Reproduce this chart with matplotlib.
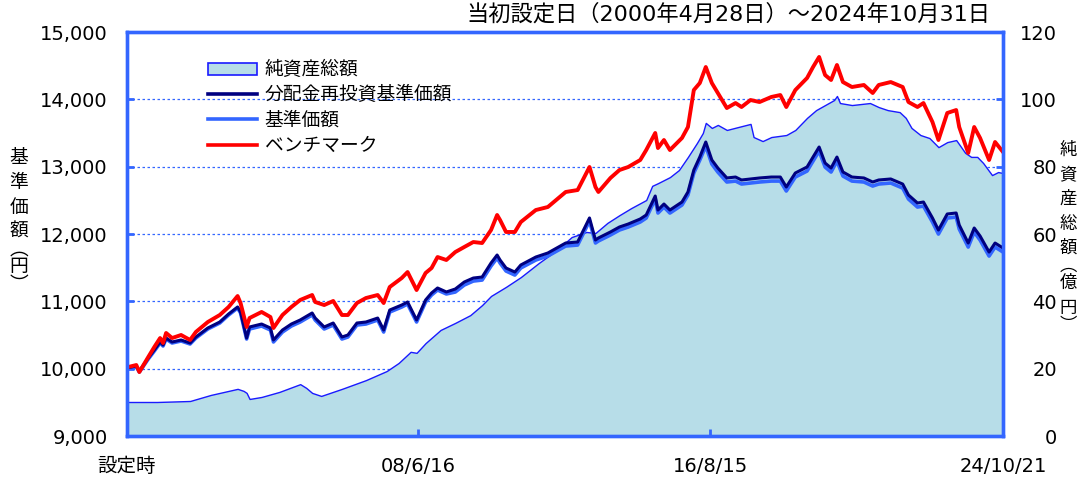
import matplotlib
matplotlib.use("Agg")
import matplotlib.pyplot as plt
import matplotlib.ticker as mticker
from matplotlib.patches import Patch
from matplotlib.lines import Line2D
import pandas as pd

plt.rcParams['font.family'] = ['DejaVu Sans', 'Noto Sans CJK JP']

# --- price series (yen) ---
price_dates = [
    '2000-04-28', '2000-08-01', '2000-09-01', '2000-12-01', '2001-02-01', '2001-04-01',
    '2001-05-01', '2001-06-01', '2001-08-01', '2001-11-01', '2002-02-01', '2002-04-01',
    '2002-08-01', '2002-12-01', '2003-03-01', '2003-06-01', '2003-07-01', '2003-09-01',
    '2003-10-01', '2004-02-01', '2004-05-01', '2004-06-01', '2004-09-01', '2004-12-01',
    '2005-03-01', '2005-07-01', '2005-08-01', '2005-11-01', '2006-02-01', '2006-05-01',
    '2006-07-01', '2006-10-01', '2007-01-01', '2007-05-01', '2007-07-01', '2007-09-01',
    '2008-01-01', '2008-03-01', '2008-06-01', '2008-09-01', '2008-11-01', '2009-01-01',
    '2009-04-01', '2009-07-01', '2009-10-01', '2010-01-01', '2010-04-01', '2010-07-01',
    '2010-09-01', '2010-10-01', '2010-12-01', '2011-03-01', '2011-05-01', '2011-10-01',
    '2012-02-01', '2012-08-01', '2012-12-01', '2013-04-01', '2013-06-01', '2013-07-01',
    '2013-11-01', '2014-02-01', '2014-05-01', '2014-09-01', '2014-11-01', '2015-02-01',
    '2015-03-01', '2015-05-01', '2015-07-01', '2015-11-01', '2016-01-01', '2016-03-01',
    '2016-05-01', '2016-07-01', '2016-09-01', '2016-11-01', '2017-02-01', '2017-05-01',
    '2017-07-01', '2017-10-01', '2018-01-01', '2018-05-01', '2018-08-01', '2018-10-01',
    '2019-01-01', '2019-05-01', '2019-07-01', '2019-09-01', '2019-11-01', '2020-01-01',
    '2020-03-01', '2020-05-01', '2020-08-01', '2020-12-01', '2021-03-01', '2021-05-01',
    '2021-09-01', '2022-01-01', '2022-03-01', '2022-06-01', '2022-08-01', '2022-11-01',
    '2023-01-01', '2023-04-01', '2023-07-01', '2023-08-01', '2023-11-01', '2024-01-01',
    '2024-03-01', '2024-06-01', '2024-08-01', '2024-10-21',
]

benchmark = [
    10020, 10054, 9950, 10173, 10322, 10455, 10381, 10530, 10455, 10500, 10426, 10545,
    10693, 10797, 10916, 11079, 10975, 10619, 10752, 10842, 10767, 10604, 10797, 10916,
    11020, 11094, 10990, 10945, 11005, 10797, 10797, 10975, 11049, 11094, 10975, 11213,
    11346, 11435, 11168, 11421, 11495, 11658, 11614, 11732, 11807, 11881, 11866, 12059,
    12282, 12208, 12030, 12030, 12178, 12356, 12401, 12624, 12653, 12995, 12698, 12624,
    12832, 12950, 12995, 13099, 13247, 13500, 13277, 13396, 13247, 13426, 13589, 14138,
    14242, 14480, 14242, 14094, 13871, 13945, 13886, 13990, 13960, 14035, 14064, 13886,
    14138, 14317, 14480, 14629, 14361, 14287, 14510, 14257, 14183, 14213, 14094, 14213,
    14257, 14183, 13960, 13886, 13945, 13663, 13396, 13797, 13841, 13589, 13203, 13589,
    13426, 13099, 13366, 13218,
]

nav_reinvested = [
    10010, 10040, 9965, 10158, 10277, 10396, 10351, 10455, 10396, 10426, 10381, 10470,
    10604, 10693, 10812, 10916, 10842, 10455, 10619, 10663, 10604, 10426, 10574, 10663,
    10723, 10827, 10752, 10619, 10678, 10470, 10500, 10678, 10693, 10752, 10574, 10871,
    10945, 10990, 10723, 11020, 11124, 11198, 11139, 11183, 11287, 11346, 11361, 11569,
    11688, 11614, 11495, 11435, 11540, 11658, 11718, 11866, 11881, 12238, 11911, 11941,
    12030, 12104, 12148, 12223, 12282, 12564, 12356, 12445, 12356, 12475, 12624, 12950,
    13143, 13366, 13099, 12980, 12832, 12846, 12802, 12817, 12832, 12846, 12846, 12698,
    12906, 12995, 13143, 13292, 13054, 12980, 13143, 12921, 12846, 12832, 12772, 12802,
    12817, 12742, 12579, 12460, 12475, 12238, 12059, 12297, 12312, 12134, 11866, 12089,
    11970, 11732, 11866, 11792,
]

nav = [
    10000, 10025, 9950, 10143, 10262, 10381, 10336, 10440, 10381, 10411, 10366, 10455,
    10589, 10678, 10797, 10901, 10827, 10440, 10589, 10633, 10574, 10396, 10544, 10633,
    10693, 10797, 10722, 10589, 10648, 10440, 10470, 10648, 10663, 10722, 10544, 10841,
    10915, 10960, 10693, 10990, 11094, 11168, 11109, 11138, 11242, 11301, 11316, 11524,
    11643, 11569, 11450, 11390, 11495, 11613, 11673, 11821, 11836, 12193, 11866, 11896,
    11985, 12059, 12103, 12178, 12237, 12519, 12311, 12400, 12311, 12430, 12579, 12905,
    13098, 13306, 13039, 12920, 12772, 12786, 12742, 12757, 12772, 12786, 12786, 12638,
    12846, 12935, 13083, 13232, 12994, 12920, 13083, 12861, 12786, 12772, 12712, 12742,
    12757, 12682, 12519, 12400, 12415, 12178, 11999, 12237, 12252, 12074, 11806, 12029,
    11910, 11672, 11806, 11732,
]

# --- net assets (100 million yen) ---
asset_dates = [
    '2000-04-28', '2001-03-01', '2002-02-01', '2002-09-01', '2003-06-01', '2003-08-01',
    '2003-09-01', '2003-10-01', '2004-02-01', '2004-08-01', '2005-03-01', '2005-05-01',
    '2005-07-01', '2005-10-01', '2006-05-01', '2007-01-01', '2007-08-01', '2007-12-01',
    '2008-04-01', '2008-06-01', '2008-09-01', '2009-02-01', '2009-07-01', '2009-12-01',
    '2010-04-01', '2010-07-01', '2010-12-01', '2011-05-01', '2011-11-01', '2012-05-01',
    '2012-10-01', '2013-03-01', '2013-06-01', '2013-10-01', '2014-02-01', '2014-06-01',
    '2014-11-01', '2015-01-01', '2015-03-01', '2015-07-01', '2015-10-01', '2016-01-01',
    '2016-04-01', '2016-06-01', '2016-07-01', '2016-09-01', '2016-11-01', '2017-02-01',
    '2017-06-01', '2017-10-01', '2017-11-01', '2018-02-01', '2018-05-01', '2018-10-01',
    '2019-01-01', '2019-05-01', '2019-08-01', '2019-11-01', '2020-02-01', '2020-03-01',
    '2020-04-01', '2020-08-01', '2021-02-01', '2021-05-01', '2021-08-01', '2021-12-01',
    '2022-02-01', '2022-04-01', '2022-07-01', '2022-10-01', '2023-01-01', '2023-04-01',
    '2023-07-01', '2023-10-01', '2023-12-01', '2024-02-01', '2024-04-01', '2024-07-01',
    '2024-09-01', '2024-10-21',
]

net_assets = [
    10.1, 10.1, 10.4, 12.2, 14.0, 13.4, 12.8, 11.0, 11.6, 13.1, 15.4, 14.3,
    12.8, 11.9, 14.0, 16.6, 19.3, 21.7, 25.0, 24.7, 27.6, 31.5, 33.6, 35.9,
    38.9, 41.6, 44.3, 47.2, 51.4, 55.2, 59.1, 60.6, 60.3, 63.3, 65.6, 67.7,
    70.1, 74.3, 75.1, 76.9, 79.0, 82.9, 87.0, 90.0, 93.0, 91.5, 92.4, 90.9,
    91.8, 92.7, 88.8, 87.6, 88.8, 89.4, 90.9, 94.5, 96.8, 98.3, 99.8, 101.0,
    98.9, 98.3, 98.9, 97.7, 96.8, 96.2, 94.5, 91.5, 89.4, 88.5, 85.8, 87.3,
    87.9, 84.1, 82.9, 82.9, 81.1, 77.5, 78.4, 78.1,
]

tick_dates = ['2000-04-28', '2008-06-16', '2016-08-15', '2024-10-21']
tick_labels = ['設定時', '08/6/16', '16/8/15', '24/10/21']

BLUE = '#3366FF'
px = pd.to_datetime(price_dates)
ax_dates = pd.to_datetime(asset_dates)

fig = plt.figure(figsize=(10.8, 4.82), dpi=100)
ax = fig.add_axes([127 / 1080, 1 - 436 / 482, 876 / 1080, 404 / 482])
ax2 = ax.twinx()
ax.set_zorder(ax2.get_zorder() + 1)
ax.patch.set_visible(False)

# net assets area (right axis)
ax2.fill_between(ax_dates, net_assets, 0, facecolor='#B7DDE8',
                 edgecolor='#1a1aff', linewidth=1.0)
ax2.set_ylim(0, 120)
ax2.set_yticks(range(0, 121, 20))
ax2.grid(axis='y', color=BLUE, linestyle=(0, (2, 2)), linewidth=0.9)
ax2.set_axisbelow(True)

# price lines (left axis)
ax.plot(px, nav, color=BLUE, lw=2.6)
ax.plot(px, nav_reinvested, color='#000080', lw=2.2)
ax.plot(px, benchmark, color='#FF0000', lw=2.8)
ax.set_ylim(9000, 15000)
ax.set_yticks(range(9000, 15001, 1000))
ax.yaxis.set_major_formatter(mticker.StrMethodFormatter('{x:,.0f}'))
ax.set_xlim(pd.Timestamp('2000-04-28'), pd.Timestamp('2024-10-21'))
ax.set_xticks(pd.to_datetime(tick_dates))
ax.set_xticklabels(tick_labels)

for a in (ax, ax2):
    for sp in a.spines.values():
        sp.set_color(BLUE)
        sp.set_linewidth(2.4)
ax.tick_params(axis='y', direction='in', length=5, width=2, color=BLUE,
               labelsize=14, pad=14)
ax.tick_params(axis='x', direction='in', length=5, width=2, color=BLUE,
               labelsize=14, pad=15)
ax2.tick_params(axis='y', direction='in', length=5, width=2, color=BLUE,
                labelsize=14, pad=39)
for lab in ax2.get_yticklabels():
    lab.set_ha('right')

handles = [
    Patch(facecolor='#B7DDE8', edgecolor='#1a1aff', linewidth=1.2),
    Line2D([], [], color='#000080', lw=2.6),
    Line2D([], [], color=BLUE, lw=2.6),
    Line2D([], [], color='#FF0000', lw=2.6),
]
labels = ['純資産総額', '分配金再投資基準価額', '基準価額', 'ベンチマーク']
ax.legend(handles, labels, loc='upper left', bbox_to_anchor=(0.093, 0.93),
          frameon=False, fontsize=13.5, handlelength=2.6, handleheight=0.6,
          handletextpad=0.4, labelspacing=0.33, borderpad=0, borderaxespad=0)

fig.text(990 / 1080, 1 - 14 / 482, '当初設定日（2000年4月28日）～2024年10月31日',
         ha='right', va='center', fontsize=16)


def stack_text(x_px, y0_px, chars, size):
    # vertical label, one character per row
    y = y0_px
    prev = None
    for ch in chars:
        if prev is not None:
            small = ch in '︵︶' or prev in '︵︶'
            y += 17.5 if small else 24.5
        fig.text(x_px / 1080, 1 - y / 482, ch, ha='center', va='center',
                 fontsize=size)
        prev = ch


stack_text(19, 158, '基準価額︵円︶', 13.5)
stack_text(1068, 150, '純資産総額︵億円︶', 12.5)

fig.savefig('out.png', dpi=100)
